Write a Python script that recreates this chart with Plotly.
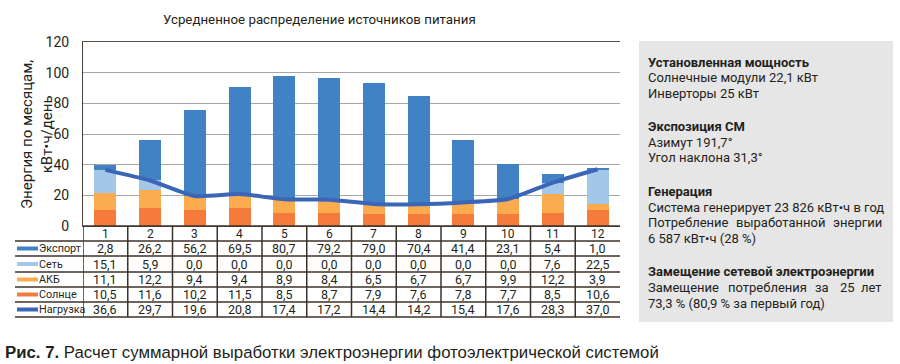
import plotly.graph_objects as go

W, H = 900, 364

months = list(range(1, 13))
month_labels = [str(m) for m in months]
export = [2.8, 26.2, 56.2, 69.5, 80.7, 79.2, 79.0, 70.4, 41.4, 23.1, 5.4, 1.0]
grid = [15.1, 5.9, 0.0, 0.0, 0.0, 0.0, 0.0, 0.0, 0.0, 0.0, 7.6, 22.5]
battery = [11.1, 12.2, 9.4, 9.4, 8.9, 8.4, 6.5, 6.7, 6.7, 9.9, 12.2, 3.9]
solar = [10.5, 11.6, 10.2, 11.5, 8.5, 8.7, 7.9, 7.6, 7.8, 7.7, 8.5, 10.6]
load = [36.6, 29.7, 19.6, 20.8, 17.4, 17.2, 14.4, 14.2, 15.4, 17.6, 28.3, 37.0]

series_names = ["Экспорт", "Сеть", "АКБ", "Солнце", "Нагрузка"]
series_values = [export, grid, battery, solar, load]
series_colors = ["#4182c5", "#a3c7e8", "#fcab4f", "#f47b3b", "#3b66b7"]

title_text = "Усредненное распределение источников питания"
ytitle = "Энергия по месяцам,<br>кВт•ч/день"
y_ticks = [0, 20, 40, 60, 80, 100, 120]

# (text, bold, justified word centres or None)
panel_lines = [
    ("Установленная мощность", True, None),
    ("Солнечные модули 22,1 кВт", False, None),
    ("Инверторы 25 кВт", False, None),
    (None, False, None),
    ("Экспозиция СМ", True, None),
    ("Азимут 191,7°", False, None),
    ("Угол наклона 31,3°", False, None),
    (None, False, None),
    ("Генерация", True, None),
    ("Система генерирует 23 826 кВт•ч в год", False, None),
    ("Потребление выработанной энергии", False, [781]),
    ("6 587 кВт•ч (28 %)", False, None),
    (None, False, None),
    ("Замещение сетевой электроэнергии", True, None),
    ("Замещение потребления за 25 лет", False, [767, 822, 847]),
    ("73,3 % (80,9 % за первый год)", False, None),
]
caption_bold = "Рис. 7."
caption_text = " Расчет суммарной выработки электроэнергии фотоэлектрической системой"

FONT = "Roboto, Arial, sans-serif"
TXT = "#231f20"
LINEC = "#3d3229"

def px(x):
    return x / W

def py(y):
    return 1 - y / H

fig = go.Figure()
for name, vals, col in [("Солнце", solar, series_colors[3]), ("АКБ", battery, series_colors[2]),
                        ("Сеть", grid, series_colors[1]), ("Экспорт", export, series_colors[0])]:
    fig.add_trace(go.Bar(x=months, y=vals, name=name, marker=dict(color=col, line=dict(width=0)),
                         width=0.49, showlegend=False))
fig.add_trace(go.Scatter(x=months, y=load, name="Нагрузка", mode="lines",
                         line=dict(color=series_colors[4], width=4, shape="spline", smoothing=0.6),
                         showlegend=False))

plot_l, plot_r, plot_t, plot_b = 83, 620, 42, 226

fig.update_layout(
    width=W, height=H, margin=dict(l=0, r=0, t=0, b=0, autoexpand=False),
    paper_bgcolor="white", plot_bgcolor="white", barmode="stack",
    font=dict(family=FONT, color=TXT, size=13),
    xaxis=dict(domain=[px(plot_l), px(plot_r)], range=[0.5, 12.5], showticklabels=False,
               showgrid=False, zeroline=False, showline=True, linecolor="#5a5048", linewidth=1,
               mirror=True, fixedrange=True, automargin=False),
    yaxis=dict(domain=[py(plot_b), py(plot_t)], range=[0, 120], tickvals=y_ticks,
               showgrid=True, gridcolor="#a6a6a6", gridwidth=1, zeroline=False,
               showline=True, linecolor="#4a4038", linewidth=1, ticks="",
               tickfont=dict(size=14, color=TXT), ticklabelstandoff=10,
               automargin=False),
)

ann = []
shapes = []
ann.append(dict(text=title_text, x=px(319), y=py(19), xref="paper", yref="paper",
                showarrow=False, font=dict(size=13.3, color=TXT), xanchor="center", yanchor="middle"))
ann.append(dict(text=ytitle, x=px(37), y=py(135), xref="paper", yref="paper", textangle=-90,
                showarrow=False, font=dict(size=15, color=TXT), xanchor="center", yanchor="middle"))

# table
row_y = [226, 241, 256, 272, 287, 302, 317]
for m, lab in zip(months, month_labels):
    ann.append(dict(text=lab, x=m, y=py((row_y[0] + row_y[1]) / 2), xref="x", yref="paper",
                    showarrow=False, font=dict(size=12, color=TXT),
                    xanchor="center", yanchor="middle"))
for i, (name, vals, col) in enumerate(zip(series_names, series_values, series_colors)):
    ymid = (row_y[i + 1] + row_y[i + 2]) / 2
    yc = py(ymid)
    for m, v in zip(months, vals):
        ann.append(dict(text=f"{v:.1f}".replace(".", ","), x=m, y=yc, xref="x", yref="paper",
                        showarrow=False, font=dict(size=12.5, color=TXT),
                        xanchor="center", yanchor="middle"))
    ann.append(dict(text=name, x=px(37), y=yc, xref="paper", yref="paper", showarrow=False,
                    font=dict(size=10.8, color=TXT), xanchor="left", yanchor="middle"))
    shapes.append(dict(type="rect", xref="paper", yref="paper", x0=px(17), x1=px(38),
                       y0=py(ymid + 2), y1=py(ymid - 2), fillcolor=col, line=dict(width=0)))
for yy in row_y[1:]:
    shapes.append(dict(type="line", xref="paper", yref="paper", x0=px(15), x1=px(plot_r),
                       y0=py(yy), y1=py(yy), line=dict(color=LINEC, width=1.5)))
for k in range(0, 12):
    shapes.append(dict(type="line", xref="x", yref="paper", x0=k + 0.5, x1=k + 0.5,
                       y0=py(row_y[0]), y1=py(row_y[-1]), line=dict(color=LINEC, width=1.5)))
shapes.append(dict(type="line", xref="paper", yref="paper", x0=px(plot_l), x1=px(plot_r),
                   y0=py(row_y[0]), y1=py(row_y[0]), line=dict(color=LINEC, width=1.5)))

# right panel
pl, pr = 646, 884
shapes.append(dict(type="rect", xref="paper", yref="paper", x0=px(639), x1=px(893),
                   y0=py(322), y1=py(41), fillcolor="#e6e6e6", line=dict(width=0), layer="below"))
y = 62
for text, bold, centres in panel_lines:
    if text is None:
        y += 18
        continue
    if centres:
        words = text.split(" ")
        n = len(words)
        for j, wd in enumerate(words):
            if j == 0:
                xa, xx = "left", pl
            elif j == n - 1:
                xa, xx = "right", pr
            else:
                xa, xx = "center", centres[j - 1]
            ann.append(dict(text=wd, x=px(xx), y=py(y), xref="paper", yref="paper", showarrow=False,
                            font=dict(size=13, color=TXT), xanchor=xa, yanchor="middle"))
    else:
        t = f"<b>{text}</b>" if bold else text
        ann.append(dict(text=t, x=px(pl), y=py(y), xref="paper", yref="paper", showarrow=False,
                        font=dict(size=13, color=TXT), xanchor="left", yanchor="middle"))
    y += 15.6

ann.append(dict(text=f"<b>{caption_bold}</b>{caption_text}", x=px(3), y=py(352), xref="paper",
                yref="paper", showarrow=False,
                font=dict(size=16.8, color="#231f20", family="Liberation Sans, Arial, sans-serif"),
                xanchor="left", yanchor="middle"))

fig.update_layout(annotations=ann, shapes=shapes)
fig.write_html("out.html", config={"displayModeBar": False},
               post_script="document.body.style.margin='0px';document.body.style.overflow='hidden';")
